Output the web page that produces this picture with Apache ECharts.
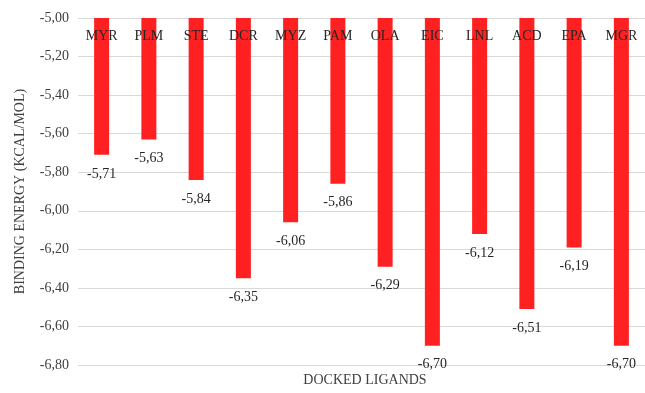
<!DOCTYPE html>
<html>
<head>
<meta charset="utf-8">
<script src="https://cdn.jsdelivr.net/npm/echarts@6/dist/echarts.min.js"></script>
<style>
  html, body { margin: 0; padding: 0; background: #fff; }
  #chart { width: 645px; height: 393px; }
</style>
</head>
<body>
<div id="chart"></div>
<script>
// Docked ligands and their binding energies (kcal/mol)
const ligands = ['MYR', 'PLM', 'STE', 'DCR', 'MYZ', 'PAM', 'OLA', 'EIC', 'LNL', 'ACD', 'EPA', 'MGR'];
const energies = [-5.71, -5.63, -5.84, -6.35, -6.06, -5.86, -6.29, -6.70, -6.12, -6.51, -6.19, -6.70];
const yMin = -6.8;
const yMax = -5.0;
const yStep = 0.2;

const fmt = v => v.toFixed(2).replace('.', ',');
const serif = '"Liberation Serif", "DejaVu Serif", serif';

const chart = echarts.init(document.getElementById('chart'), null, { renderer: 'canvas' });
chart.setOption({
  animation: false,
  backgroundColor: '#ffffff',
  textStyle: { fontFamily: serif },
  grid: { left: 78, top: 18, width: 574, height: 347, containLabel: false },
  xAxis: {
    type: 'category',
    data: ligands,
    position: 'top',
    z: 5,
    axisLine: { show: false },
    axisTick: { show: false },
    axisLabel: {
      inside: true,
      margin: 11,
      color: '#262626',
      fontSize: 14,
      fontFamily: serif
    }
  },
  yAxis: {
    type: 'value',
    min: yMin,
    max: yMax,
    interval: yStep,
    axisLine: { show: false },
    axisTick: { show: false },
    splitLine: { lineStyle: { color: '#d9d9d9', width: 1 } },
    axisLabel: {
      formatter: fmt,
      color: '#404040',
      fontSize: 14,
      margin: 9,
      fontFamily: serif
    },
    name: 'BINDING ENERGY (KCAL/MOL)',
    nameLocation: 'middle',
    nameGap: 51,
    nameRotate: 90,
    nameTextStyle: { color: '#404040', fontSize: 14, fontFamily: serif }
  },
  series: [{
    type: 'bar',
    data: energies,
    barWidth: 15,
    clip: true,
    itemStyle: { color: '#ff2121' },
    label: {
      show: true,
      position: 'bottom',
      distance: 12,
      formatter: p => fmt(p.value),
      color: '#262626',
      fontSize: 14,
      fontFamily: serif
    }
  }],
  // x-axis title under the plot
  graphic: [{
    type: 'text',
    x: 365,
    y: 380,
    style: {
      text: 'DOCKED LIGANDS',
      fill: '#404040',
      font: '14px ' + serif,
      align: 'center',
      verticalAlign: 'middle'
    }
  }]
});
</script>
</body>
</html>
